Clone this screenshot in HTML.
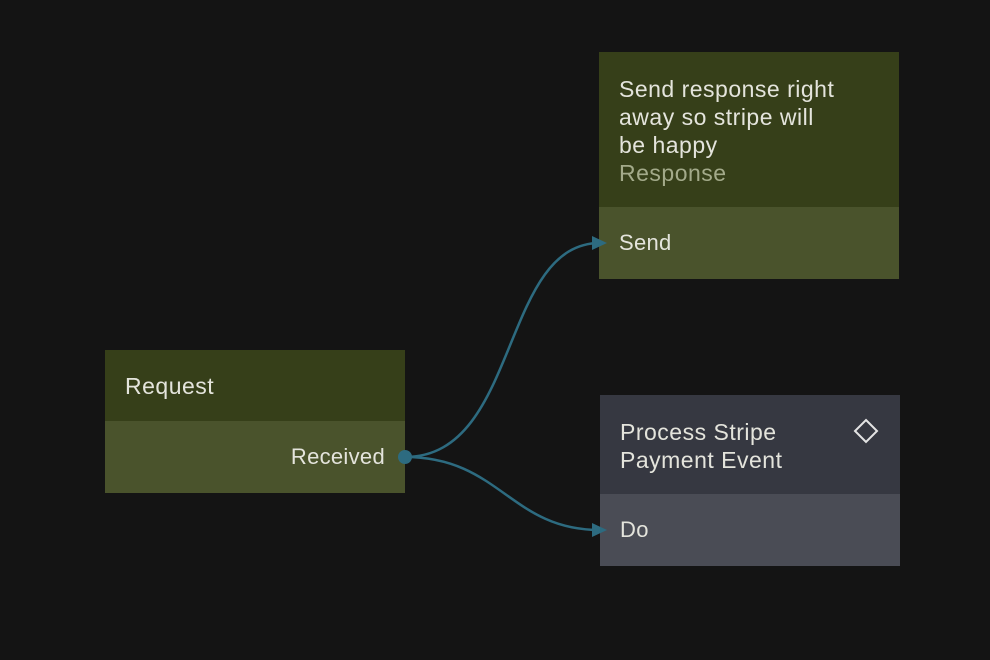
<!DOCTYPE html>
<html><head><style>
body{margin:0;width:990px;height:660px;background:#141414;position:relative;overflow:hidden;font-family:"Liberation Sans",sans-serif;}
.n{position:absolute;width:300px;}
.h{color:#e4e4dc;font-size:23px;letter-spacing:0.5px;line-height:28px;box-sizing:border-box;padding:0 20px;white-space:nowrap;}
.b{color:#e4e4dc;font-size:22px;letter-spacing:0.3px;box-sizing:border-box;padding:0 20px;display:flex;align-items:center;}
</style></head><body>
<div class="n" style="left:105px;top:350px;">
 <div class="h" style="background:#363f19;height:71px;padding-top:22px;">Request</div>
 <div class="b" style="background:#4a532c;height:72px;justify-content:flex-end;">Received</div>
</div>
<div class="n" style="left:599px;top:52px;">
 <div class="h" style="background:#363f19;height:155px;padding-top:23px;">Send response right<br>away so stripe will<br>be happy<br><span style="color:#a3aa8a">Response</span></div>
 <div class="b" style="background:#4a532c;height:72px;">Send</div>
</div>
<div class="n" style="left:600px;top:395px;">
 <div class="h" style="background:#363841;height:99px;padding-top:23px;">Process Stripe<br>Payment Event</div>
 <div class="b" style="background:#4a4c55;height:72px;">Do</div>
</div>
<svg width="990" height="660" style="position:absolute;left:0;top:0">
 <path d="M405 457 C520 457 500 243 600 243" fill="none" stroke="#2d6b80" stroke-width="2.5"/>
 <path d="M405 457 C500 457 510 530 600 530" fill="none" stroke="#2d6b80" stroke-width="2.5"/>
 <circle cx="405" cy="457" r="7" fill="#2d6b80"/>
 <polygon points="592,236 607,243 592,250" fill="#2d6b80"/>
 <polygon points="592,523 607,530 592,537" fill="#2d6b80"/>
 <polygon points="866,420 877,431 866,442 855,431" fill="none" stroke="#e4e4e4" stroke-width="2"/>
</svg>
</body></html>
